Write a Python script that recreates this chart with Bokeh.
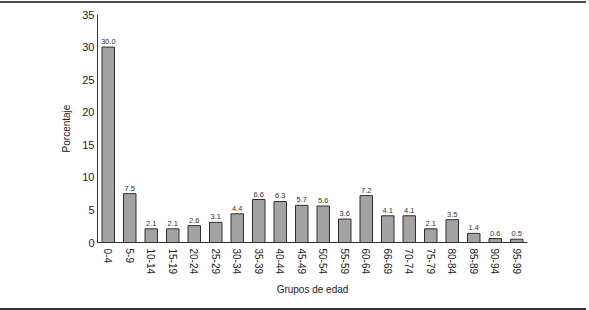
import math
from bokeh.plotting import figure
from bokeh.models import ColumnDataSource, Range1d, FactorRange, Div, FixedTicker
from bokeh.layouts import column
from bokeh.embed import file_html
from bokeh.resources import INLINE
from bokeh.core.properties import value

categories = ["0-4", "5-9", "10-14", "15-19", "20-24", "25-29", "30-34", "35-39",
              "40-44", "45-49", "50-54", "55-59", "60-64", "66-69", "70-74", "75-79",
              "80-84", "85-89", "90-94", "95-99"]
values = [30.0, 7.5, 2.1, 2.1, 2.6, 3.1, 4.4, 6.6, 6.3, 5.7, 5.6, 3.6, 7.2, 4.1, 4.1,
          2.1, 3.5, 1.4, 0.6, 0.5]
labels = ["%.1f" % v for v in values]
y_ticks = [0, 5, 10, 15, 20, 25, 30, 35]

FONT = "Liberation Sans"

src = ColumnDataSource(dict(cat=categories, val=values, lab=labels))

p = figure(width=589, height=304, x_range=FactorRange(*categories, range_padding=0),
           y_range=Range1d(0, 35), output_backend="svg", toolbar_location=None,
           min_border_left=97, min_border_right=62, min_border_top=11, min_border_bottom=65)
p.x_range.factor_padding = 0
p.outline_line_color = None
p.grid.visible = False

p.vbar(x="cat", top="val", width=0.58, source=src, fill_color="#a3a3a3",
       line_color="#2e2e2e", line_width=1)
p.text(x="cat", y="val", text="lab", source=src, y_offset=-3,
       text_align="center", text_baseline="bottom", text_font=value(FONT),
       text_font_size="7.5px", text_color="#333333")

yax = p.yaxis[0]
yax.ticker = FixedTicker(ticks=y_ticks)
yax.major_tick_out = 0
yax.major_tick_in = 0
yax.minor_tick_out = 0
yax.minor_tick_in = 0
yax.major_label_standoff = 3
yax.major_label_text_font = FONT
yax.major_label_text_font_size = "11px"
yax.major_label_text_color = "#222222"
yax.axis_line_color = "#333333"
yax.axis_label = "Porcentaje"
yax.axis_label_text_font = FONT
yax.axis_label_text_font_size = "10px"
yax.axis_label_text_font_style = "normal"
yax.axis_label_text_color = "#222222"
yax.axis_label_standoff = 7

xax = p.xaxis[0]
xax.major_tick_out = 0
xax.major_tick_in = 0
xax.major_label_orientation = -math.pi / 2
xax.major_label_standoff = 6
xax.major_label_text_font = FONT
xax.major_label_text_font_size = "10px"
xax.major_label_text_color = "#222222"
xax.axis_line_color = "#333333"
xax.axis_label = "Grupos de edad"
xax.axis_label_text_font = FONT
xax.axis_label_text_font_size = "10px"
xax.axis_label_text_font_style = "normal"
xax.axis_label_text_color = "#222222"
xax.axis_label_standoff = 7

top_rule = Div(text="", width=586, height=2, margin=(1, 0, 0, 0),
               styles={"background-color": "#4a4a4a"})
bot_rule = Div(text="", width=586, height=2, margin=(1, 0, 0, 0),
               styles={"background-color": "#333333"})

layout = column(top_rule, p, bot_rule, spacing=0)

open("out.html", "w").write(file_html(layout, INLINE))
